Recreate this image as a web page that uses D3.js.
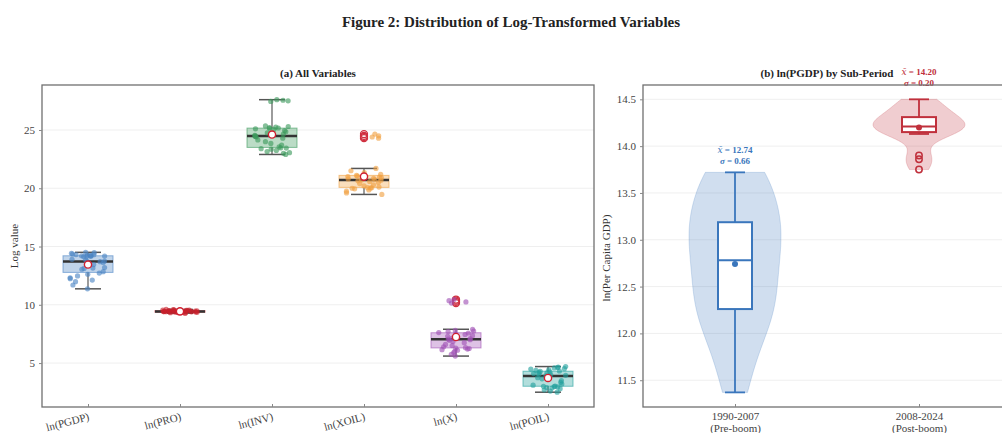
<!doctype html>
<html>
<head>
<meta charset="utf-8">
<script src="https://d3js.org/d3.v7.min.js"></script>
<style>
body { margin: 0; background: #fff; }
text { font-family: "Liberation Serif", "Times New Roman", serif; fill: #333; }
</style>
</head>
<body>
<script>

// ---------- data ----------
var vars = ["ln(PGDP)", "ln(PRO)", "ln(INV)", "ln(XOIL)", "ln(X)", "ln(POIL)"];
var varColors = ["#4a84c4", "#c8202c", "#3c9a5c", "#f0a040", "#a050b4", "#22a09c"];

var pgdpPre = [11.37, 11.70, 11.98, 12.12, 12.24, 12.32, 12.48, 12.62, 12.72,
               12.84, 13.05, 13.12, 13.15, 13.20, 13.45, 13.62, 13.70, 13.72];
var pgdpPost = [13.75, 13.86, 13.90, 14.13, 14.15, 14.16, 14.18, 14.20, 14.21,
                14.24, 14.27, 14.30, 14.31, 14.36, 14.42, 14.47, 14.50];
var pro = [9.28, 9.30, 9.32, 9.33, 9.34, 9.35, 9.36, 9.37, 9.38, 9.38, 9.39, 9.40,
           9.40, 9.41, 9.41, 9.42, 9.42, 9.43, 9.43, 9.44, 9.44, 9.45, 9.46, 9.47,
           9.48, 9.49, 9.50, 9.51, 9.52, 9.53, 9.54, 9.55, 9.56, 9.58, 9.60];
var inv = [22.90, 23.00, 23.05, 23.15, 23.25, 23.35, 23.40, 23.45, 23.46, 23.55,
           23.70, 23.85, 24.00, 24.15, 24.30, 24.40, 24.45, 24.49, 24.55, 24.65,
           24.75, 24.85, 24.95, 25.05, 25.10, 25.15, 25.17, 25.20, 25.25, 25.30,
           25.35, 27.45, 27.50, 27.55, 27.60];
var xoil = [19.47, 19.60, 19.75, 19.85, 19.95, 20.00, 20.02, 20.04, 20.05, 20.10,
            20.20, 20.30, 20.40, 20.50, 20.58, 20.64, 20.68, 20.71, 20.75, 20.80,
            20.85, 20.90, 20.95, 21.00, 21.05, 21.10, 21.11, 21.20, 21.35, 21.50,
            21.70, 24.30, 24.40, 24.50, 24.65];
var xexp = [5.60, 5.75, 5.90, 6.00, 6.10, 6.15, 6.20, 6.25, 6.28, 6.32,
            6.40, 6.50, 6.60, 6.75, 6.85, 6.95, 7.00, 7.05, 7.10, 7.15,
            7.20, 7.30, 7.35, 7.45, 7.50, 7.58, 7.62, 7.70, 7.75, 7.80,
            7.90, 10.15, 10.25, 10.35, 10.45];
var poil = [2.50, 2.60, 2.70, 2.80, 2.85, 2.90, 2.95, 2.98, 3.00, 3.02,
            3.10, 3.20, 3.35, 3.50, 3.65, 3.75, 3.85, 3.90, 3.95, 4.00,
            4.05, 4.10, 4.15, 4.20, 4.25, 4.28, 4.32, 4.38, 4.42, 4.48,
            4.52, 4.58, 4.62, 4.66, 4.70];
var yTicksA = [5, 10, 15, 20, 25];

var periods = ["1990-2007", "2008-2024"];
var periodNotes = ["(Pre-boom)", "(Post-boom)"];
var periodMean = [12.74, 14.20];
var periodSd = [0.66, 0.20];
var periodColors = ["#3a76bc", "#c0303c"];
var yTicksB = [11.5, 12.0, 12.5, 13.0, 13.5, 14.0, 14.5];

var series = [pgdpPre.concat(pgdpPost), pro, inv, xoil, xexp, poil];
var periodSeries = [pgdpPre, pgdpPost];

// ---------- helpers ----------
function boxStats(v) {
    var s = v.slice().sort(d3.ascending);
    var q1 = d3.quantile(s, 0.25), med = d3.quantile(s, 0.5), q3 = d3.quantile(s, 0.75);
    var iqr = q3 - q1;
    var lo = d3.min(s.filter(function(d) { return d >= q1 - 1.5 * iqr; }));
    var hi = d3.max(s.filter(function(d) { return d <= q3 + 1.5 * iqr; }));
    return {q1: q1, med: med, q3: q3, lo: lo, hi: hi, mean: d3.mean(s),
            out: s.filter(function(d) { return d < lo || d > hi; }), min: s[0], max: s[s.length - 1]};
}

function kde(v, n) {
    var sd = d3.deviation(v), bw = 0.85 * sd * Math.pow(v.length, -0.2);
    var lo = d3.min(v), hi = d3.max(v);
    return d3.range(n + 1).map(function(i) {
        var t = lo + (hi - lo) * i / n;
        var dens = d3.mean(v, function(x) { var u = (t - x) / bw; return Math.exp(-0.5 * u * u); });
        return [t, dens];
    });
}

var svg = d3.select("body").append("svg").attr("width", 1002).attr("height", 433);
svg.append("rect").attr("width", 1002).attr("height", 433).attr("fill", "#fff");

svg.append("text").attr("x", 511).attr("y", 27).attr("text-anchor", "middle")
    .style("font-size", "15px").style("font-weight", "bold").style("fill", "#222")
    .text("Figure 2: Distribution of Log-Transformed Variables");

// ---------- panel (a) ----------
var ax = {l: 42, r: 594, t: 85, b: 407};
var xA = d3.scalePoint().domain(vars).range([ax.l, ax.r]).padding(0.5);
var yA = d3.scaleLinear().domain([1.23, 28.86]).range([ax.b, ax.t]);
var gA = svg.append("g");

gA.selectAll(".grid").data(yTicksA).enter().append("line")
    .attr("x1", ax.l).attr("x2", ax.r)
    .attr("y1", function(d) { return yA(d); }).attr("y2", function(d) { return yA(d); })
    .style("stroke", "#efefef").style("stroke-width", 1);

var rng = d3.randomLcg(0.37);
var boxW = 50;

series.forEach(function(v, i) {
    var st = boxStats(v), cx = xA(vars[i]), col = varColors[i];
    var g = gA.append("g");
    // whiskers
    [[st.q3, st.hi], [st.q1, st.lo]].forEach(function(p) {
        g.append("line").attr("x1", cx).attr("x2", cx).attr("y1", yA(p[0])).attr("y2", yA(p[1]))
            .style("stroke", "#666").style("stroke-width", 1.3);
        g.append("line").attr("x1", cx - 13).attr("x2", cx + 13).attr("y1", yA(p[1])).attr("y2", yA(p[1]))
            .style("stroke", "#555").style("stroke-width", 1.5);
    });
    g.append("rect").attr("x", cx - boxW / 2).attr("width", boxW)
        .attr("y", yA(st.q3)).attr("height", Math.max(yA(st.q1) - yA(st.q3), 1.5))
        .style("fill", col).style("fill-opacity", 0.35)
        .style("stroke", col).style("stroke-opacity", 0.6).style("stroke-width", 1);
    g.append("line").attr("x1", cx - boxW / 2).attr("x2", cx + boxW / 2)
        .attr("y1", yA(st.med)).attr("y2", yA(st.med))
        .style("stroke", "#333").style("stroke-width", 2.5);
    // fliers
    g.selectAll(".out").data(st.out).enter().append("circle")
        .attr("cx", cx).attr("cy", function(d) { return yA(d); }).attr("r", 3.5)
        .style("fill", "none").style("stroke", "#d03040").style("stroke-width", 1.3);
    // jittered points
    g.selectAll(".pt").data(v).enter().append("circle")
        .attr("cx", function() { return cx + (rng() - 0.5) * 36; })
        .attr("cy", function(d) { return yA(d); }).attr("r", 2.6)
        .style("fill", col).style("fill-opacity", 0.62);
    // mean
    g.append("circle").attr("cx", cx).attr("cy", yA(st.mean)).attr("r", 3.6)
        .style("fill", "#fff").style("stroke", "#d02030").style("stroke-width", 1.4);
});

gA.append("rect").attr("x", ax.l).attr("y", ax.t).attr("width", ax.r - ax.l).attr("height", ax.b - ax.t)
    .style("fill", "none").style("stroke", "#707070").style("stroke-width", 1.3);

var yAxisA = gA.append("g").attr("transform", "translate(" + ax.l + ",0)")
    .call(d3.axisLeft(yA).tickValues(yTicksA).tickSize(3).tickPadding(4));
var xAxisA = gA.append("g").attr("transform", "translate(0," + ax.b + ")")
    .call(d3.axisBottom(xA).tickSize(-3).tickPadding(4));
xAxisA.selectAll("text").attr("x", -2).attr("y", 5).attr("dy", "0.71em")
    .attr("text-anchor", "end").attr("transform", "rotate(-15)");
[yAxisA, xAxisA].forEach(function(a) {
    a.select(".domain").remove();
    a.selectAll("line").style("stroke", "#888");
    a.selectAll("text").style("font-family", "Liberation Serif").style("font-size", "11px").style("fill", "#444");
});

gA.append("text").attr("transform", "translate(18," + (ax.t + ax.b) / 2 + ") rotate(-90)")
    .attr("text-anchor", "middle").style("font-size", "11px").text("Log value");
gA.append("text").attr("x", (ax.l + ax.r) / 2).attr("y", 77).attr("text-anchor", "middle")
    .style("font-size", "11px").style("font-weight", "bold").style("fill", "#222")
    .text("(a) All Variables");

// ---------- panel (b) ----------
var bx = {l: 643, r: 1011, t: 85, b: 407};
var xB = d3.scalePoint().domain(periods).range([bx.l, bx.r]).padding(0.5);
var yB = d3.scaleLinear().domain([11.214, 14.653]).range([bx.b, bx.t]);
var gB = svg.append("g");

gB.selectAll(".grid").data(yTicksB).enter().append("line")
    .attr("x1", bx.l).attr("x2", bx.r)
    .attr("y1", function(d) { return yB(d); }).attr("y2", function(d) { return yB(d); })
    .style("stroke", "#efefef").style("stroke-width", 1);

var labelGap = [8, 13];

periodSeries.forEach(function(v, i) {
    var st = boxStats(v), cx = xB(periods[i]), col = periodColors[i];
    var dens = kde(v, 80);
    var w = d3.scaleLinear().domain([0, d3.max(dens, function(d) { return d[1]; })]).range([0, 46]);
    var area = d3.area().curve(d3.curveBasis)
        .y(function(d) { return yB(d[0]); })
        .x0(function(d) { return cx - w(d[1]); })
        .x1(function(d) { return cx + w(d[1]); });
    var g = gB.append("g");
    g.append("path").datum(dens).attr("d", area)
        .style("fill", col).style("fill-opacity", 0.24)
        .style("stroke", col).style("stroke-opacity", 0.2).style("stroke-width", 1);
    [[st.q3, st.hi], [st.q1, st.lo]].forEach(function(p) {
        g.append("line").attr("x1", cx).attr("x2", cx).attr("y1", yB(p[0])).attr("y2", yB(p[1]))
            .style("stroke", col).style("stroke-width", 1.8);
        g.append("line").attr("x1", cx - 10).attr("x2", cx + 10).attr("y1", yB(p[1])).attr("y2", yB(p[1]))
            .style("stroke", col).style("stroke-width", 1.8);
    });
    g.append("rect").attr("x", cx - 17).attr("width", 34)
        .attr("y", yB(st.q3)).attr("height", yB(st.q1) - yB(st.q3))
        .style("fill", "#fff").style("stroke", col).style("stroke-width", 2);
    g.append("line").attr("x1", cx - 17).attr("x2", cx + 17)
        .attr("y1", yB(st.med)).attr("y2", yB(st.med))
        .style("stroke", col).style("stroke-width", 2);
    g.append("circle").attr("cx", cx).attr("cy", yB(periodMean[i])).attr("r", 3).style("fill", col);
    g.selectAll(".out").data(st.out).enter().append("circle")
        .attr("cx", cx).attr("cy", function(d) { return yB(d); }).attr("r", 3.2)
        .style("fill", "none").style("stroke", col).style("stroke-width", 1.5);
    var ty = yB(st.max) - labelGap[i];
    var t1 = g.append("text").attr("x", cx).attr("y", ty - 11).attr("text-anchor", "middle")
        .style("font-size", "9px").style("font-weight", "bold").style("fill", col);
    t1.append("tspan").style("font-family", "DejaVu Serif").style("font-style", "italic")
        .style("font-weight", "normal").style("fill", col).text("x\u0304");
    t1.append("tspan").style("fill", col).text(" = " + periodMean[i].toFixed(2));
    var t2 = g.append("text").attr("x", cx).attr("y", ty).attr("text-anchor", "middle")
        .style("font-size", "9px").style("font-weight", "bold").style("fill", col);
    t2.append("tspan").style("font-style", "italic").style("fill", col).text("\u03c3");
    t2.append("tspan").style("fill", col).text(" = " + periodSd[i].toFixed(2));
});

gB.append("rect").attr("x", bx.l).attr("y", bx.t).attr("width", bx.r - bx.l).attr("height", bx.b - bx.t)
    .style("fill", "none").style("stroke", "#707070").style("stroke-width", 1.3);

var yAxisB = gB.append("g").attr("transform", "translate(" + bx.l + ",0)")
    .call(d3.axisLeft(yB).tickValues(yTicksB).tickFormat(d3.format(".1f")).tickSize(3).tickPadding(4));
var xAxisB = gB.append("g").attr("transform", "translate(0," + bx.b + ")")
    .call(d3.axisBottom(xB).tickSize(-3).tickPadding(4));
xAxisB.selectAll("text").each(function(d, i) {
    var t = d3.select(this).text(null).attr("y", 4).attr("dy", null);
    t.append("tspan").attr("x", 0).attr("dy", "0.85em").text(d);
    t.append("tspan").attr("x", 0).attr("dy", "1.1em").text(periodNotes[i]);
});
[yAxisB, xAxisB].forEach(function(a) {
    a.select(".domain").remove();
    a.selectAll("line").style("stroke", "#888");
    a.selectAll("text").style("font-family", "Liberation Serif").style("font-size", "11px").style("fill", "#444");
});

gB.append("text").attr("transform", "translate(610,258) rotate(-90)")
    .attr("text-anchor", "middle").style("font-size", "11px").text("ln(Per Capita GDP)");
gB.append("text").attr("x", (bx.l + bx.r) / 2).attr("y", 77).attr("text-anchor", "middle")
    .style("font-size", "11px").style("font-weight", "bold").style("fill", "#222")
    .text("(b) ln(PGDP) by Sub-Period");

</script>
</body>
</html>
